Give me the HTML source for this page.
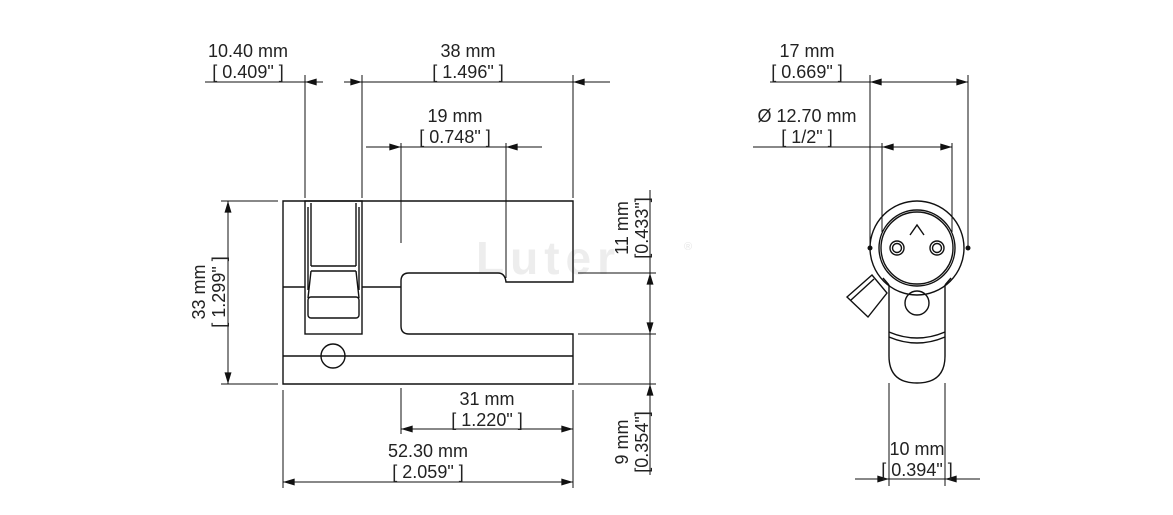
<!DOCTYPE html>
<html><head><meta charset="utf-8"><style>
html,body{margin:0;padding:0;background:#fff;}
svg{display:block;font-family:"Liberation Sans","DejaVu Sans",sans-serif;}
text{font-size:18px;fill:#222;}
</style></head><body>
<svg width="1173" height="515" viewBox="0 0 1173 515" xmlns="http://www.w3.org/2000/svg">
<defs>
<marker id="a" viewBox="0 0 10 6" refX="10" refY="3" markerWidth="18" markerHeight="7" markerUnits="userSpaceOnUse" orient="auto"><path d="M0,0 L10,3 L0,6z" fill="#111"/></marker>
</defs>
<!-- watermark -->
<text x="476" y="274" style="font-size:46px;font-weight:bold;fill:#ededed;letter-spacing:6px">Luter</text>
<text x="684" y="250" style="font-size:11px;fill:#e6e6e6">®</text>

<g stroke="#111" stroke-width="1.4" fill="none">
<path d="M283,201 H573 V282 H506 Q505,273 498,273 H409 Q401,273 401,281 V326 Q401,334 409,334 H573 V384 H283 Z"/>
<path d="M283,356 H573"/>
<path d="M283,287 H305 M362,287 H401"/>
<rect x="305" y="201" width="57" height="133"/>
<path d="M311,203 V266 M356,203 V266 M311,266 H356 M311,271 H356"/>
<path d="M308,207 V290 M359,207 V290"/>
<path d="M311,271 L308,298 M356,271 L359,298"/>
<rect x="308" y="297" width="51" height="21" rx="3"/>
<circle cx="333" cy="356" r="12"/>
</g>
<g stroke="#111" stroke-width="1" fill="none">
<path d="M305,75 V198 M362,75 V198 M573,75 V198 M401,143 V243 M506,143 V278 M401,388 V434"/>
<path d="M283,390 V488 M573,390 V488"/>
<path d="M221,201 H278 M221,384 H278"/>
<path d="M578,273 H656 M578,334 H656 M578,384 H656"/>
<path d="M205,82 H323" /><path d="M323,82 H305" marker-end="url(#a)"/>
<path d="M344,82 H362" marker-end="url(#a)"/>
<path d="M362,82 H610"/><path d="M592,82 H573" marker-end="url(#a)"/>
<path d="M366,147 H542"/><path d="M383,147 H401" marker-end="url(#a)"/><path d="M524,147 H506" marker-end="url(#a)"/>
<path d="M401,429 H573"/><path d="M421,429 H401" marker-end="url(#a)"/><path d="M553,429 H573" marker-end="url(#a)"/>
<path d="M283,482 H573"/><path d="M303,482 H283" marker-end="url(#a)"/><path d="M553,482 H573" marker-end="url(#a)"/>
<path d="M228,201 V384"/><path d="M228,221 V201" marker-end="url(#a)"/><path d="M228,364 V384" marker-end="url(#a)"/>
<path d="M650,190 V475"/><path d="M650,293 V273" marker-end="url(#a)"/><path d="M650,314 V334" marker-end="url(#a)"/><path d="M650,404 V384" marker-end="url(#a)"/>
</g>
<g>
<text x="248" y="57" text-anchor="middle">10.40 mm</text>
<text x="248" y="78" text-anchor="middle">[ 0.409" ]</text>
<text x="468" y="57" text-anchor="middle">38 mm</text>
<text x="468" y="78" text-anchor="middle">[ 1.496" ]</text>
<text x="455" y="122" text-anchor="middle">19 mm</text>
<text x="455" y="143" text-anchor="middle">[ 0.748" ]</text>
<text x="487" y="405" text-anchor="middle">31 mm</text>
<text x="487" y="426" text-anchor="middle">[ 1.220" ]</text>
<text x="428" y="457" text-anchor="middle">52.30 mm</text>
<text x="428" y="478" text-anchor="middle">[ 2.059" ]</text>
<text transform="translate(205,292) rotate(-90)" text-anchor="middle">33 mm</text>
<text transform="translate(225,292) rotate(-90)" text-anchor="middle">[ 1.299" ]</text>
<text transform="translate(628,228) rotate(-90)" text-anchor="middle">11 mm</text>
<text transform="translate(648,228) rotate(-90)" text-anchor="middle">[0.433"]</text>
<text transform="translate(628,442) rotate(-90)" text-anchor="middle">9 mm</text>
<text transform="translate(648,442) rotate(-90)" text-anchor="middle">[0.354"]</text>
</g>

<g stroke="#111" stroke-width="1.4" fill="none">
<circle cx="917" cy="248" r="47"/>
<circle cx="917" cy="248" r="38"/>
<circle cx="917" cy="248" r="36"/>
<circle cx="897" cy="248" r="7"/><circle cx="897" cy="248" r="4.5"/>
<circle cx="937" cy="248" r="7"/><circle cx="937" cy="248" r="4.5"/>
<path d="M910,235 L917,225 L924,235"/>
<path d="M889,285 L883,278 M945,285 L951,278"/>
<path d="M889,285 V356 Q889,383 917,383 Q945,383 945,356 V285"/>
<path d="M889,332 Q917,344 945,332 M889,337 Q917,349 945,337"/>
<circle cx="917" cy="303" r="12"/>
<path d="M847,297 L872,275 L887,293 L868,317 Z M851,300 L874,279"/>
</g>
<g stroke="#111" stroke-width="1" fill="none">
<path d="M870,75 V248 M968,75 V248 M882,143 V232 M952,143 V232"/>
<path d="M889,383 V486 M945,383 V486"/>
<path d="M770,82 H968"/><path d="M890,82 H870" marker-end="url(#a)"/><path d="M948,82 H968" marker-end="url(#a)"/>
<path d="M753,147 H952"/><path d="M900,147 H882" marker-end="url(#a)"/><path d="M934,147 H952" marker-end="url(#a)"/>
<path d="M855,479 H980"/><path d="M871,479 H889" marker-end="url(#a)"/><path d="M963,479 H945" marker-end="url(#a)"/>
</g>
<circle cx="870" cy="248" r="2.5" fill="#111"/><circle cx="968" cy="248" r="2.5" fill="#111"/>
<text x="807" y="57" text-anchor="middle">17 mm</text>
<text x="807" y="78" text-anchor="middle">[ 0.669" ]</text>
<text x="807" y="122" text-anchor="middle">Ø 12.70 mm</text>
<text x="807" y="143" text-anchor="middle">[ 1/2" ]</text>
<text x="917" y="455" text-anchor="middle">10 mm</text>
<text x="917" y="476" text-anchor="middle">[ 0.394" ]</text>
</svg>
</body></html>
